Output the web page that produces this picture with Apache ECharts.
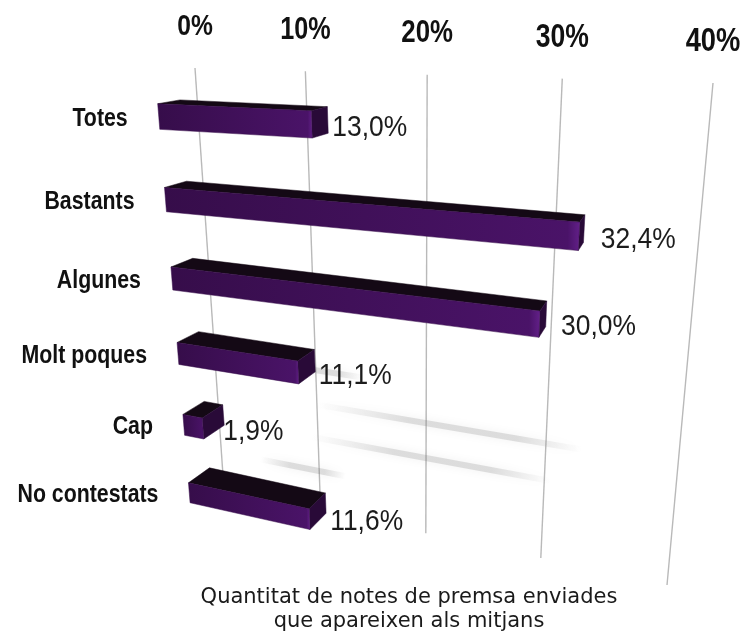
<!DOCTYPE html>
<html>
<head>
<meta charset="utf-8">
<script src="https://cdn.jsdelivr.net/npm/echarts@6/dist/echarts.min.js"></script>
<style>
  html, body { margin: 0; background: #fff; }
  #chart { width: 744px; height: 634px; }
</style>
</head>
<body>
<div id="chart"></div>
<script>
const categories = ['Totes', 'Bastants', 'Algunes', 'Molt poques', 'Cap', 'No contestats'];
const values = [13.0, 32.4, 30.0, 11.1, 1.9, 11.6];
const valueLabels = ['13,0%', '32,4%', '30,0%', '11,1%', '1,9%', '11,6%'];
const ticks = [0, 10, 20, 30, 40];
const tickLabels = ['0%', '10%', '20%', '30%', '40%'];
const caption = ['Quantitat de notes de premsa enviades', 'que apareixen als mitjans'];

// back wall seen in perspective: corners of the 0..40 % wall on screen
const wall = [[195, 68], [713, 83], [667, 585], [224, 490]];

// square -> quad homography (u along the value axis, w down the chart)
function makeProjection(q) {
  const [x0, y0] = q[0], [x1, y1] = q[1], [x2, y2] = q[2], [x3, y3] = q[3];
  const dx1 = x1 - x2, dx2 = x3 - x2, dx3 = x0 - x1 + x2 - x3;
  const dy1 = y1 - y2, dy2 = y3 - y2, dy3 = y0 - y1 + y2 - y3;
  const den = dx1 * dy2 - dx2 * dy1;
  const g = (dx3 * dy2 - dx2 * dy3) / den;
  const h = (dx1 * dy3 - dx3 * dy1) / den;
  const a = x1 - x0 + g * x1, b = x3 - x0 + h * x3, c = x0;
  const d = y1 - y0 + g * y1, e = y3 - y0 + h * y3, f = y0;
  const fn = function (u, w) {
    const z = g * u + h * w + 1;
    return [(a * u + b * w + c) / z, (d * u + e * w + f) / z];
  };
  fn.depth = (u, w) => g * u + h * w + 1;
  return fn;
}
const project = makeProjection(wall);

// bars stand in front of the wall: a bit wider and shifted left
const toBar = u => -0.0975 + 1.1 * u;
// category band -> depth on the wall
const toDepth = t => 0.0137 + 1.1076 * t;
// depth of the boxes, pulled towards a vanishing point
const back = p => [p[0] + 0.0407 * (705 - p[0]), p[1] + 0.0295 * (-26 - p[1])];

function unit(params, pt) {
  const cs = params.coordSys;
  return [(pt[0] - cs.x) / cs.width, (pt[1] - cs.y) / cs.height];
}

const chart = echarts.init(document.getElementById('chart'));

const option = {
  animation: false,
  grid: { left: 0, right: 0, top: 0, bottom: 0 },
  xAxis: { type: 'value', min: 0, max: 40, show: false },
  yAxis: { type: 'category', data: categories, inverse: true, show: false },
  series: [
    {
      // slanted grid lines + tick labels
      type: 'custom',
      z: 1,
      data: ticks.map((t, i) => [t, 0, i]),
      renderItem(params, api) {
        const u = unit(params, api.coord([api.value(0), 0]))[0];
        const top = project(u, 0), bottom = project(u, 1);
        const z = Math.sqrt(1 / project.depth(u, 0));
        return {
          type: 'group',
          children: [
            {
              type: 'line',
              shape: { x1: top[0], y1: top[1], x2: bottom[0], y2: bottom[1] },
              style: { stroke: '#b9b9b9', lineWidth: 1.4 }
            },
            {
              type: 'text',
              x: top[0], y: top[1] - 41,
              scaleX: 0.82 * z, scaleY: z,
              style: {
                text: tickLabels[api.value(2)],
                font: 'bold 30px "Liberation Sans", Arial, sans-serif',
                fill: '#111', align: 'center', verticalAlign: 'middle'
              }
            }
          ]
        };
      }
    },
    {
      // soft floor shadows of the upper bars
      type: 'custom',
      z: 2,
      data: values.slice(0, 4).map((v, i) => [v, i]),
      renderItem(params, api) {
        const v = api.value(0);
        const c = unit(params, api.coord([0, api.value(1)]));
        const ua = unit(params, api.coord([0.28 * v + 1, 0]))[0];
        const ub = unit(params, api.coord([0.95 * v + 2, 0]))[0];
        const ws = 0.6 + 0.45 * toDepth(c[1]);
        const p = project(ua, ws), q = project(ub, ws);
        return {
          type: 'line',
          shape: { x1: p[0], y1: p[1], x2: q[0], y2: q[1] },
          style: {
            lineWidth: 6,
            stroke: new echarts.graphic.LinearGradient(p[0], p[1], q[0], q[1], [
              { offset: 0, color: 'rgba(120,120,120,0)' },
              { offset: 0.35, color: 'rgba(120,120,120,0.22)' },
              { offset: 0.75, color: 'rgba(120,120,120,0.22)' },
              { offset: 1, color: 'rgba(120,120,120,0)' }
            ], true),
            shadowBlur: 8,
            shadowColor: 'rgba(0,0,0,0.25)'
          }
        };
      }
    },
    {
      // 3D bars, category labels and value labels
      type: 'custom',
      z: 3,
      data: values.map((v, i) => [v, i]),
      renderItem(params, api) {
        const i = api.value(1);
        const s = unit(params, api.coord([0, i]));
        const e = unit(params, api.coord([api.value(0), i]));
        const band = api.size([0, 1])[1] / params.coordSys.height;
        const wc = toDepth(s[1]);
        const hh = band * 1.1076 * 0.15;
        const u0 = toBar(s[0]), u1 = toBar(e[0]);
        const ftl = project(u0, wc - hh), ftr = project(u1, wc - hh);
        const fbr = project(u1, wc + hh), fbl = project(u0, wc + hh);
        const btl = back(ftl), btr = back(ftr), bbr = back(fbr);
        return {
          type: 'group',
          children: [
            {
              type: 'polygon',
              shape: { points: [ftl, ftr, btr, btl] },
              style: { fill: '#140915', stroke: '#140915', lineWidth: 0.5 }
            },
            {
              type: 'polygon',
              shape: { points: [ftr, fbr, bbr, btr] },
              style: { fill: '#290a38', stroke: '#290a38', lineWidth: 0.5 }
            },
            {
              type: 'polygon',
              shape: { points: [ftl, ftr, fbr, fbl] },
              style: {
                fill: new echarts.graphic.LinearGradient(0, 0, 1, 0, [
                  { offset: 0, color: '#360d4a' },
                  { offset: 0.97, color: '#4a1368' },
                  { offset: 1, color: '#63208a' }
                ]),
                stroke: '#360d4a', lineWidth: 0.5
              }
            },
            {
              type: 'text',
              x: ftl[0] - 30, y: (ftl[1] + fbl[1]) / 2 + 2,
              scaleX: 0.82,
              style: {
                text: categories[i],
                font: 'bold 26px "Liberation Sans", Arial, sans-serif',
                fill: '#111', align: 'right', verticalAlign: 'middle'
              }
            },
            {
              type: 'text',
              x: ftr[0] + 21, y: (ftr[1] + fbr[1]) / 2 + 3,
              scaleX: 0.88,
              style: {
                text: valueLabels[i],
                font: '30px "Liberation Sans", Arial, sans-serif',
                fill: '#1c1c1c', align: 'left', verticalAlign: 'middle'
              }
            }
          ]
        };
      }
    }
  ],
  graphic: caption.map((line, k) => ({
    type: 'text',
    x: 409,
    y: 598 + 24 * k,
    style: {
      text: line,
      font: '21px "DejaVu Sans", Verdana, sans-serif',
      fill: '#1a1a1a',
      align: 'center',
      verticalAlign: 'middle'
    }
  }))
};

chart.setOption(option);
</script>
</body>
</html>
